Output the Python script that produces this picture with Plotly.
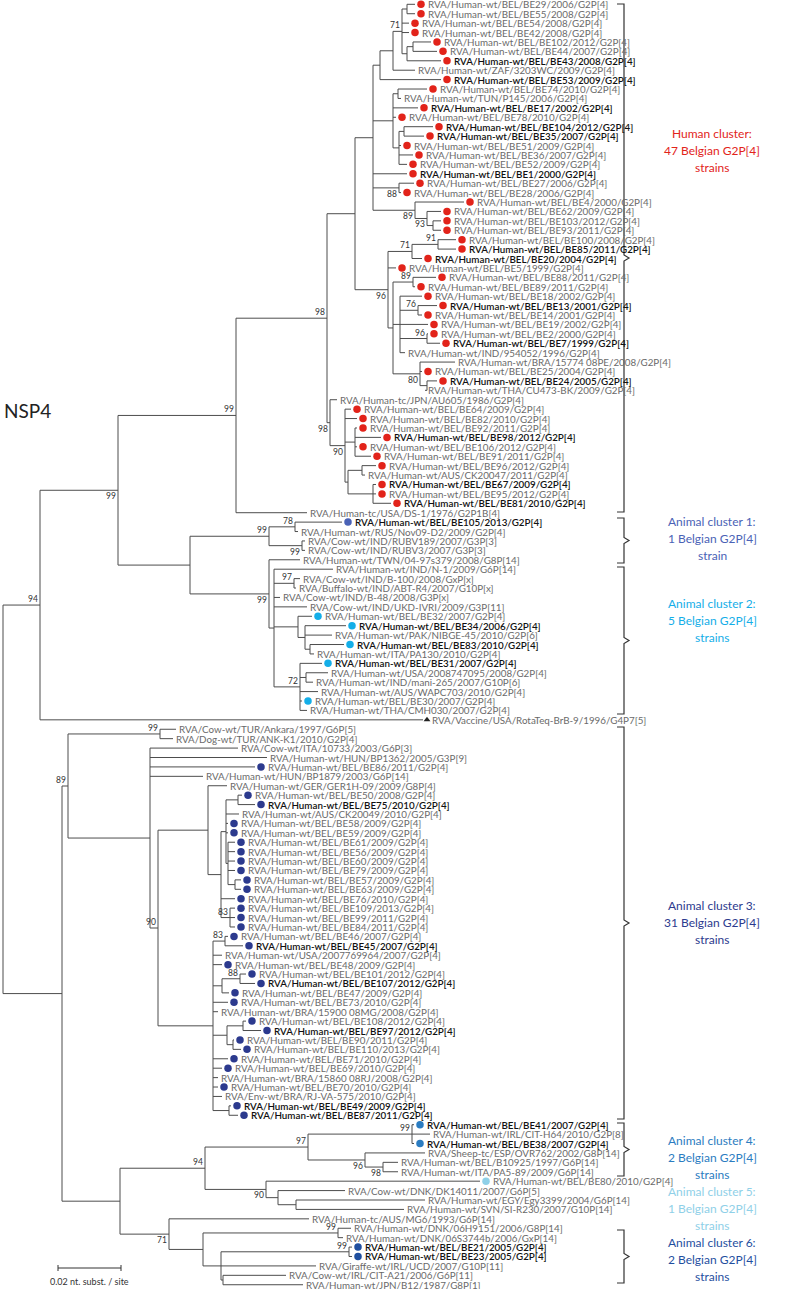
import plotly.graph_objects as go

# ---------------- data ----------------
LEAF_NAMES = [
 "RVA/Human-wt/BEL/BE29/2006/G2P[4]", "RVA/Human-wt/BEL/BE55/2008/G2P[4]", "RVA/Human-wt/BEL/BE54/2008/G2P[4]",
 "RVA/Human-wt/BEL/BE42/2008/G2P[4]", "RVA/Human-wt/BEL/BE102/2012/G2P[4]", "RVA/Human-wt/BEL/BE44/2007/G2P[4]",
 "RVA/Human-wt/BEL/BE43/2008/G2P[4]", "RVA/Human-wt/ZAF/3203WC/2009/G2P[4]", "RVA/Human-wt/BEL/BE53/2009/G2P[4]",
 "RVA/Human-wt/BEL/BE74/2010/G2P[4]", "RVA/Human-wt/TUN/P145/2006/G2P[4]", "RVA/Human-wt/BEL/BE17/2002/G2P[4]",
 "RVA/Human-wt/BEL/BE78/2010/G2P[4]", "RVA/Human-wt/BEL/BE104/2012/G2P[4]", "RVA/Human-wt/BEL/BE35/2007/G2P[4]",
 "RVA/Human-wt/BEL/BE51/2009/G2P[4]", "RVA/Human-wt/BEL/BE36/2007/G2P[4]", "RVA/Human-wt/BEL/BE52/2009/G2P[4]",
 "RVA/Human-wt/BEL/BE1/2000/G2P[4]", "RVA/Human-wt/BEL/BE27/2006/G2P[4]", "RVA/Human-wt/BEL/BE28/2006/G2P[4]",
 "RVA/Human-wt/BEL/BE4/2000/G2P[4]", "RVA/Human-wt/BEL/BE62/2009/G2P[4]", "RVA/Human-wt/BEL/BE103/2012/G2P[4]",
 "RVA/Human-wt/BEL/BE93/2011/G2P[4]", "RVA/Human-wt/BEL/BE100/2008/G2P[4]", "RVA/Human-wt/BEL/BE85/2011/G2P[4]",
 "RVA/Human-wt/BEL/BE20/2004/G2P[4]", "RVA/Human-wt/BEL/BE5/1999/G2P[4]", "RVA/Human-wt/BEL/BE88/2011/G2P[4]",
 "RVA/Human-wt/BEL/BE89/2011/G2P[4]", "RVA/Human-wt/BEL/BE18/2002/G2P[4]", "RVA/Human-wt/BEL/BE13/2001/G2P[4]",
 "RVA/Human-wt/BEL/BE14/2001/G2P[4]", "RVA/Human-wt/BEL/BE19/2002/G2P[4]", "RVA/Human-wt/BEL/BE2/2000/G2P[4]",
 "RVA/Human-wt/BEL/BE7/1999/G2P[4]", "RVA/Human-wt/IND/954052/1996/G2P[4]", "RVA/Human-wt/BRA/15774 08PE/2008/G2P[4]",
 "RVA/Human-wt/BEL/BE25/2004/G2P[4]", "RVA/Human-wt/BEL/BE24/2005/G2P[4]", "RVA/Human-wt/THA/CU473-BK/2009/G2P[4]",
 "RVA/Human-tc/JPN/AU605/1986/G2P[4]", "RVA/Human-wt/BEL/BE64/2009/G2P[4]", "RVA/Human-wt/BEL/BE82/2010/G2P[4]",
 "RVA/Human-wt/BEL/BE92/2011/G2P[4]", "RVA/Human-wt/BEL/BE98/2012/G2P[4]", "RVA/Human-wt/BEL/BE106/2012/G2P[4]",
 "RVA/Human-wt/BEL/BE91/2011/G2P[4]", "RVA/Human-wt/BEL/BE96/2012/G2P[4]", "RVA/Human-wt/AUS/CK20047/2011/G2P[4]",
 "RVA/Human-wt/BEL/BE67/2009/G2P[4]", "RVA/Human-wt/BEL/BE95/2012/G2P[4]", "RVA/Human-wt/BEL/BE81/2010/G2P[4]",
 "RVA/Human-tc/USA/DS-1/1976/G2P1B[4]", "RVA/Human-wt/BEL/BE105/2013/G2P[4]", "RVA/Human-wt/RUS/Nov09-D2/2009/G2P[4]",
 "RVA/Cow-wt/IND/RUBV189/2007/G3P[3]", "RVA/Cow-wt/IND/RUBV3/2007/G3P[3]", "RVA/Human-wt/TWN/04-97s379/2008/G8P[14]",
 "RVA/Human-wt/IND/N-1/2009/G6P[14]", "RVA/Cow-wt/IND/B-100/2008/GxP[x]", "RVA/Buffalo-wt/IND/ABT-R4/2007/G10P[x]",
 "RVA/Cow-wt/IND/B-48/2008/G3P[x]", "RVA/Cow-wt/IND/UKD-IVRI/2009/G3P[11]", "RVA/Human-wt/BEL/BE32/2007/G2P[4]",
 "RVA/Human-wt/BEL/BE34/2006/G2P[4]", "RVA/Human-wt/PAK/NIBGE-45/2010/G2P[6]", "RVA/Human-wt/BEL/BE83/2010/G2P[4]",
 "RVA/Human-wt/ITA/PA130/2010/G2P[4]", "RVA/Human-wt/BEL/BE31/2007/G2P[4]", "RVA/Human-wt/USA/2008747095/2008/G2P[4]",
 "RVA/Human-wt/IND/mani-265/2007/G10P[6]", "RVA/Human-wt/AUS/WAPC703/2010/G2P[4]", "RVA/Human-wt/BEL/BE30/2007/G2P[4]",
 "RVA/Human-wt/THA/CMH030/2007/G2P[4]", "RVA/Vaccine/USA/RotaTeq-BrB-9/1996/G4P7[5]", "RVA/Cow-wt/TUR/Ankara/1997/G6P[5]",
 "RVA/Dog-wt/TUR/ANK-K1/2010/G2P[4]", "RVA/Cow-wt/ITA/10733/2003/G6P[3]", "RVA/Human-wt/HUN/BP1362/2005/G3P[9]",
 "RVA/Human-wt/BEL/BE86/2011/G2P[4]", "RVA/Human-wt/HUN/BP1879/2003/G6P[14]", "RVA/Human-wt/GER/GER1H-09/2009/G8P[4]",
 "RVA/Human-wt/BEL/BE50/2008/G2P[4]", "RVA/Human-wt/BEL/BE75/2010/G2P[4]", "RVA/Human-wt/AUS/CK20049/2010/G2P[4]",
 "RVA/Human-wt/BEL/BE58/2009/G2P[4]", "RVA/Human-wt/BEL/BE59/2009/G2P[4]", "RVA/Human-wt/BEL/BE61/2009/G2P[4]",
 "RVA/Human-wt/BEL/BE56/2009/G2P[4]", "RVA/Human-wt/BEL/BE60/2009/G2P[4]", "RVA/Human-wt/BEL/BE79/2009/G2P[4]",
 "RVA/Human-wt/BEL/BE57/2009/G2P[4]", "RVA/Human-wt/BEL/BE63/2009/G2P[4]", "RVA/Human-wt/BEL/BE76/2010/G2P[4]",
 "RVA/Human-wt/BEL/BE109/2013/G2P[4]", "RVA/Human-wt/BEL/BE99/2011/G2P[4]", "RVA/Human-wt/BEL/BE84/2011/G2P[4]",
 "RVA/Human-wt/BEL/BE46/2007/G2P[4]", "RVA/Human-wt/BEL/BE45/2007/G2P[4]", "RVA/Human-wt/USA/2007769964/2007/G2P[4]",
 "RVA/Human-wt/BEL/BE48/2009/G2P[4]", "RVA/Human-wt/BEL/BE101/2012/G2P[4]", "RVA/Human-wt/BEL/BE107/2012/G2P[4]",
 "RVA/Human-wt/BEL/BE47/2009/G2P[4]", "RVA/Human-wt/BEL/BE73/2010/G2P[4]", "RVA/Human-wt/BRA/15900 08MG/2008/G2P[4]",
 "RVA/Human-wt/BEL/BE108/2012/G2P[4]", "RVA/Human-wt/BEL/BE97/2012/G2P[4]", "RVA/Human-wt/BEL/BE90/2011/G2P[4]",
 "RVA/Human-wt/BEL/BE110/2013/G2P[4]", "RVA/Human-wt/BEL/BE71/2010/G2P[4]", "RVA/Human-wt/BEL/BE69/2010/G2P[4]",
 "RVA/Human-wt/BRA/15860 08RJ/2008/G2P[4]", "RVA/Human-wt/BEL/BE70/2010/G2P[4]", "RVA/Env-wt/BRA/RJ-VA-575/2010/G2P[4]",
 "RVA/Human-wt/BEL/BE49/2009/G2P[4]", "RVA/Human-wt/BEL/BE87/2011/G2P[4]", "RVA/Human-wt/BEL/BE41/2007/G2P[4]",
 "RVA/Human-wt/IRL/CIT-H64/2010/G2P[8]", "RVA/Human-wt/BEL/BE38/2007/G2P[4]", "RVA/Sheep-tc/ESP/OVR762/2002/G8P[14]",
 "RVA/Human-wt/BEL/B10925/1997/G6P[14]", "RVA/Human-wt/ITA/PA5-89/2009/G6P[14]", "RVA/Human-wt/BEL/BE80/2010/G2P[4]",
 "RVA/Cow-wt/DNK/DK14011/2007/G6P[5]", "RVA/Human-wt/EGY/Egy3399/2004/G6P[14]", "RVA/Human-wt/SVN/SI-R230/2007/G10P[14]",
 "RVA/Human-tc/AUS/MG6/1993/G6P[14]", "RVA/Human-wt/DNK/06H9151/2006/G8P[14]", "RVA/Human-wt/DNK/06S3744b/2006/GxP[14]",
 "RVA/Human-wt/BEL/BE21/2005/G2P[4]", "RVA/Human-wt/BEL/BE23/2005/G2P[4]", "RVA/Giraffe-wt/IRL/UCD/2007/G10P[11]",
 "RVA/Cow-wt/IRL/CIT-A21/2006/G6P[11]", "RVA/Human-wt/JPN/B12/1987/G8P[1]",
]

# tip depth of each leaf (tree units)
LEAF_TIP = [
 415, 415, 409, 409, 431, 437, 441, 415, 441, 427,
 401, 418, 396, 433, 424, 401, 413, 407, 407, 414,
 401, 464, 441, 441, 441, 456, 456, 422, 396, 436,
 415, 422, 437, 422, 428, 428, 440, 405, 455, 422,
 437, 425, 337, 351, 357, 357, 381, 357, 371, 376,
 365, 376, 376, 391, 307, 342, 298, 305, 305, 300,
 333, 300, 296, 280, 307, 312, 346, 332, 344, 314,
 322, 328, 313, 318, 302, 307, 423, 176, 173, 238,
 267, 255, 203, 227, 242, 255, 239, 228, 228, 235,
 235, 235, 235, 241, 241, 235, 235, 235, 235, 228,
 243, 222, 222, 246, 255, 229, 228, 218, 246, 261,
 234, 241, 228, 222, 218, 218, 222, 231, 238, 414,
 430, 414, 425, 398, 398, 480, 345, 425, 404, 309,
 351, 343, 352, 352, 316, 286, 303,
]

# Belgian strains by cluster (1-based leaf numbers)
GROUP_MEMBERS = {
 "h":  [1, 2, 3, 4, 5, 6, 7, 9, 10, 12, 13, 14, 15, 16, 17, 18, 19, 20, 21, 22, 23, 24, 25, 26, 27, 28,
        29, 30, 31, 32, 33, 34, 35, 36, 37, 40, 41, 44, 45, 46, 47, 48, 49, 50, 52, 53, 54],
 "a1": [56],
 "a2": [66, 67, 69, 71, 75],
 "a3": [82, 85, 86, 88, 89, 90, 91, 92, 93, 94, 95, 96, 97, 98, 99, 100, 101, 103, 104, 105, 106, 107,
        109, 110, 111, 112, 113, 114, 116, 118, 119],
 "a4": [120, 122],
 "a5": [126],
 "a6": [133, 134],
}
VACCINE_LEAF = 77
BOLD_LEAVES = [7, 9, 12, 14, 15, 19, 27, 28, 33, 37, 41, 47, 52, 54, 56, 67, 69, 71, 86, 101, 105, 110,
               118, 119, 120, 122, 133, 134]

# tree: [node depth, bootstrap, label side, children...]; ints are leaf numbers
n_12 = [407, "", "", 1, 2]
n_56 = [413, "", "", 5, 6]
n_567 = [407, "", "", n_56, 7]
n_71 = [402, "71", "a", n_12, 3, 4, n_567]
n_1_8 = [393, "", "", n_71, 8]
n_1_9 = [380, "", "", n_1_8, 9]
n_10_11 = [398, "", "", 10, 11]
n_14_15 = [404, "", "", 14, 15]
n_14_18 = [399, "", "", n_14_15, 16, 17, 18]
n_10_18 = [393, "", "", n_10_11, 12, 13, n_14_18]
n_20_21 = [399, "88", "b", 20, 21]
n_24_25 = [433, "", "", 24, 25]
n_23_25 = [427, "93", "b", 23, n_24_25]
n_22_25 = [415, "89", "b", 22, n_23_25]
n_1_25 = [373, "", "", n_1_9, n_10_18, 19, n_20_21, n_22_25]
n_26_27 = [438, "91", "a", 26, 27]
n_26_28 = [412, "71", "a", n_26_27, 28]
n_30_31 = [413, "89", "a", 30, 31]
n_33_34 = [418, "76", "a", 33, 34]
n_36_37 = [427, "96", "a", 36, 37]
n_32_38 = [400, "", "", 32, n_33_34, 35, n_36_37, 38]
n_41_42 = [427, "", "", 41, 42]
n_39_42 = [420, "80", "b", 39, 40, n_41_42]
n_30_42 = [393, "", "", n_30_31, n_32_38, n_39_42]
n_26_42 = [388, "96", "b", n_26_28, 29, n_30_42]
n_1_42 = [355, "", "", n_1_25, n_26_42]
n_46_49 = [355, "", "", 46, 47, 48, 49]
n_50_51 = [362, "", "", 50, 51]
n_52_54 = [373, "", "", 52, 53, 54]
n_50_54 = [348, "", "", n_50_51, n_52_54]
n_44_54 = [345, "90", "b", 44, 45, n_46_49, n_50_54]
n_43_54 = [330, "98", "b", 43, n_44_54]
n_1_54 = [327, "98", "a", n_1_42, n_43_54]
n_1_55 = [236, "99", "a", n_1_54, 55]

n_56_57 = [295, "78", "a", 56, 57]
n_58_59 = [302, "99", "b", 58, 59]
n_56_59 = [269, "99", "a", n_56_57, n_58_59]
n_62_63 = [294, "97", "a", 62, 63]
n_69_70 = [310, "", "", 69, 70]
n_67_70 = [305, "", "", 67, 68, n_69_70]
n_66_70 = [298, "", "", 66, n_67_70]
n_72_73 = [306, "", "", 72, 73]
n_71_76 = [300, "72", "a", 71, n_72_73, 74, 75, 76]
n_61_76 = [274, "", "", 61, n_62_63, 64, 65, n_66_70, n_71_76]
n_60_76 = [269, "99", "b", 60, n_61_76]
n_56_76 = [190, "", "", n_56_59, n_60_76]
n_1_76 = [118, "99", "b", n_1_55, n_56_76]
n_1_77 = [40, "94", "a", n_1_76, 77]

n_78_79 = [160, "99", "a", 78, 79]
n_85_86 = [238, "", "", 85, 86]
n_94_95 = [235, "", "", 94, 95]
n_90_95 = [228, "", "", 90, 91, 92, 93, n_94_95]
n_85_95 = [226, "", "", n_85_86, 87, 88, 89, n_90_95]
n_97_99 = [230, "83", "a", 97, 98, 99]
n_85_99 = [221, "", "", n_85_95, 96, n_97_99]
n_84_99 = [208, "", "", 84, n_85_99]
n_100_101 = [225, "83", "a", 100, 101]
n_104_105 = [240, "88", "a", 104, 105]
n_104_106 = [222, "", "", n_104_105, 106]
n_109_110 = [243, "", "", 109, 110]
n_111_112 = [233, "", "", 111, 112]
n_109_112 = [227, "", "", n_109_110, n_111_112]
n_118_119 = [229, "", "", 118, 119]
n_100_119 = [213, "", "", n_100_101, 102, 103, n_104_106, 107, 108, n_109_112, 113, 114, 115, 116, 117, n_118_119]
n_84_119 = [158, "90", "a", n_84_99, n_100_119]
n_80_119 = [150, "", "", 80, 81, 82, 83, n_84_119]
n_78_119 = [68, "89", "a", n_78_79, n_80_119]

n_120_122 = [412, "99", "a", 120, 121, 122]
n_124_125 = [383, "98", "b", 124, 125]
n_123_125 = [365, "96", "b", 123, n_124_125]
n_120_125 = [308, "97", "a", n_120_122, n_123_125]
n_128_129 = [296, "", "", 128, 129]
n_127_129 = [278, "", "", 127, n_128_129]
n_126_129 = [266, "90", "b", 126, n_127_129]
n_120_129 = [205, "94", "a", n_120_125, n_126_129]
n_131_132 = [338, "99", "a", 131, 132]
n_133_134 = [349, "99", "a", 133, 134]
n_136_137 = [223, "", "", 136, 137]
n_133_137 = [221, "", "", n_133_134, 135, n_136_137]
n_131_137 = [203, "", "", n_131_132, n_133_137]
n_130_137 = [169, "71", "b", 130, n_131_137]
n_120_137 = [120, "", "", n_120_129, n_130_137]
n_78_137 = [62, "", "", n_78_119, n_120_137]
TREE = [3, "", "", n_1_77, n_78_137]

CLUSTER_TEXT = [
 ["Human cluster:", "47 Belgian G2P[4]", "strains"],
 ["Animal cluster 1:", "1 Belgian G2P[4]", "strain"],
 ["Animal cluster 2:", "5 Belgian G2P[4]", "strains"],
 ["Animal cluster 3:", "31 Belgian G2P[4]", "strains"],
 ["Animal cluster 4:", "2 Belgian G2P[4]", "strains"],
 ["Animal cluster 5:", "1 Belgian G2P[4]", "strains"],
 ["Animal cluster 6:", "2 Belgian G2P[4]", "strains"],
]
CLUSTER_KEYS = ["h", "a1", "a2", "a3", "a4", "a5", "a6"]
CLUSTER_TEXT_Y = [133, 521, 603, 905, 1140, 1191, 1242]
CLUSTER_BRACKET = [(4, 512), (518, 563), (567, 714), (727, 1119), (1123, 1176), None, (1230, 1283)]

SCALE_VALUE = 0.02
SCALE_UNITS = 63  # tree units for 0.02 subst./site

# ---------------- styles ----------------
COLORS = {"h": "#e2231a", "a1": "#4a62b6", "a2": "#14aee8", "a3": "#2c3a8e",
          "a4": "#2b7cc1", "a5": "#8fd0e8", "a6": "#1f4f9f"}
FONT = "Lato"
LINE_COLOR = "#4d4d4d"
Y_TOP, Y_STEP = 4.3, 9.415

leaf_y = [Y_TOP + i * Y_STEP for i in range(len(LEAF_NAMES))]
group_of = {}
for g, mem in GROUP_MEMBERS.items():
    for m in mem:
        group_of[m] = g

seg_x, seg_y, boots = [], [], []


def walk(node):
    if isinstance(node, int):
        return LEAF_TIP[node - 1], leaf_y[node - 1]
    x, bs, side = node[0], node[1], node[2]
    pts = [walk(k) for k in node[3:]]
    ys = [p[1] for p in pts]
    y = (ys[0] + ys[-1]) / 2
    seg_x.extend([x, x, None]); seg_y.extend([ys[0], ys[-1], None])
    for kx, ky in pts:
        seg_x.extend([x, kx, None]); seg_y.extend([ky, ky, None])
    if bs:
        boots.append((x, y, bs, side))
    return x, y


walk(TREE)

fig = go.Figure()
fig.add_trace(go.Scatter(x=seg_x, y=seg_y, mode="lines", line=dict(color=LINE_COLOR, width=1),
                         hoverinfo="skip"))

# dots
for g, mem in GROUP_MEMBERS.items():
    fig.add_trace(go.Scatter(x=[LEAF_TIP[m - 1] + 6 for m in mem], y=[leaf_y[m - 1] for m in mem],
                             mode="markers", marker=dict(color=COLORS[g], size=7.5, line=dict(width=0)),
                             hoverinfo="skip"))
fig.add_trace(go.Scatter(x=[LEAF_TIP[VACCINE_LEAF - 1] + 4], y=[leaf_y[VACCINE_LEAF - 1]], mode="markers",
                         marker=dict(symbol="triangle-up", color="#222", size=6), hoverinfo="skip"))

ann = []
for i, name in enumerate(LEAF_NAMES):
    n = i + 1
    if n in group_of:
        tx = LEAF_TIP[i] + 12
    elif n == VACCINE_LEAF:
        tx = LEAF_TIP[i] + 8
    else:
        tx = LEAF_TIP[i] + 2
    bold = n in BOLD_LEAVES
    ann.append(dict(x=tx, y=leaf_y[i], text=name, xanchor="left", yanchor="middle", showarrow=False,
                    borderpad=0,
                    font=dict(family=FONT, size=9.8, color="#111" if bold else "#6a6a6a",
                              weight=600 if bold else 400)))

for x, y, bs, side in boots:
    ann.append(dict(x=x - 1, y=y + (6 if side == "b" else -6), text=bs, xanchor="right", yanchor="middle",
                    showarrow=False, borderpad=0, font=dict(family=FONT, size=8.5, color="#333")))

# cluster annotations + brackets
shapes = []
for key, lines, ty, br in zip(CLUSTER_KEYS, CLUSTER_TEXT, CLUSTER_TEXT_Y, CLUSTER_BRACKET):
    for j, t in enumerate(lines):
        ann.append(dict(x=712, y=ty + 17 * j, text=t, xanchor="center", yanchor="middle", showarrow=False,
                        font=dict(family=FONT, size=12, color=COLORS[key])))
    if br:
        y0, y1 = br
        ym = (y0 + y1) / 2
        path = f"M 617 {y0} L 624 {y0} L 624 {ym - 3} L 629 {ym} L 624 {ym + 3} L 624 {y1} L 617 {y1}"
        shapes.append(dict(type="path", path=path, line=dict(color="#333", width=1.2)))

# title
ann.append(dict(x=2, y=410, text="NSP4", xanchor="left", yanchor="middle", showarrow=False,
                font=dict(family=FONT, size=19, color="#222")))

# scale bar
sx0 = 58
shapes.append(dict(type="line", x0=sx0, x1=sx0 + SCALE_UNITS, y0=1268, y1=1268, line=dict(color="#333", width=1)))
shapes.append(dict(type="line", x0=sx0, x1=sx0, y0=1265, y1=1271, line=dict(color="#333", width=1)))
shapes.append(dict(type="line", x0=sx0 + SCALE_UNITS, x1=sx0 + SCALE_UNITS, y0=1265, y1=1271,
                   line=dict(color="#333", width=1)))
ann.append(dict(x=sx0 + SCALE_UNITS / 2, y=1281, text=f"{SCALE_VALUE} nt. subst. / site", xanchor="center",
                yanchor="middle", showarrow=False, font=dict(family=FONT, size=9, color="#333")))

fig.update_layout(width=787, height=1289, margin=dict(l=0, r=0, t=0, b=0), showlegend=False,
                  plot_bgcolor="white", paper_bgcolor="white", annotations=ann, shapes=shapes,
                  xaxis=dict(range=[0, 787], visible=False, fixedrange=True),
                  yaxis=dict(range=[1289, 0], visible=False, fixedrange=True))
fig.write_html("out.html", config={"displayModeBar": False},
               post_script="document.body.style.margin='0px';")
